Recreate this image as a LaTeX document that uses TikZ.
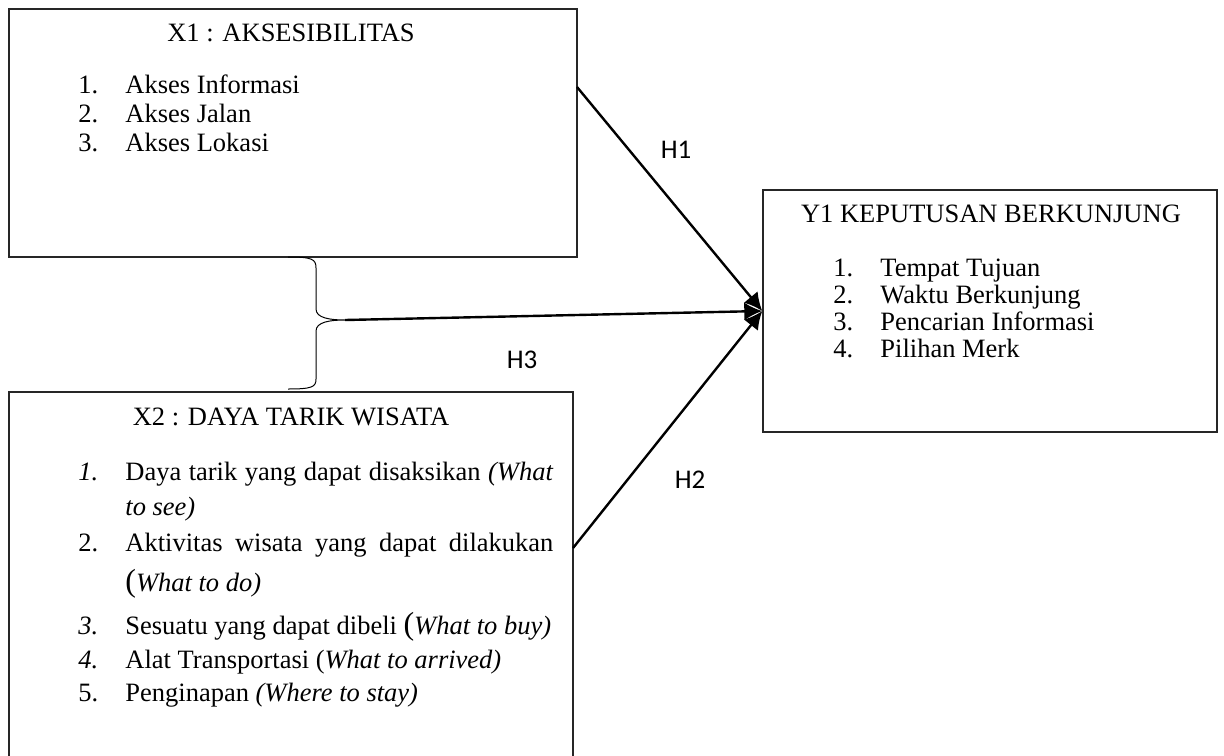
\documentclass[tikz,border=0pt]{standalone}
\usepackage{fontspec}
\setmainfont{Liberation Serif}
\newfontfamily\sansf{Carlito}
\usetikzlibrary{arrows.meta}
\begin{document}
\begin{tikzpicture}[x=0.5pt,y=-0.5pt,
  box/.style={draw=black!85, line width=0.7pt, inner sep=0pt, fill=none},
  txt/.style={inner sep=0pt, anchor=west, font=\fontsize{13.25pt}{15pt}\selectfont, text height=0.7em, text depth=0.2em},
  head/.style={txt, anchor=center},
  hlab/.style={inner sep=0pt, font=\sansf\fontsize{13.5pt}{15pt}\selectfont},
  conn/.style={line width=1.2pt, -{Latex[length=9pt,width=9pt]}},
  brace/.style={line width=0.5pt}]
\clip (0,0) rectangle (1224,755);
% boxes
\node[box, minimum width=284pt, minimum height=124pt] (x1) at (293,133) {};
\node[box, minimum width=282pt, minimum height=194pt] (x2) at (291,586) {};
\node[box, minimum width=227pt, minimum height=121pt] (y1) at (990,311) {};
% X1 text
\node[head] (x1h) at (291,36) {X1 : AKSESIBILITAS};
\node[txt] (x1n1) at (78,88) {1.};
\node[txt] (x1t1) at (125,88) {Akses Informasi};
\node[txt] (x1n2) at (78,117) {2.};
\node[txt] (x1t2) at (125,117) {Akses Jalan};
\node[txt] (x1n3) at (78,146) {3.};
\node[txt] (x1t3) at (125,146) {Akses Lokasi};
% Y1 text
\node[head] (y1h) at (991,217) {Y1 KEPUTUSAN BERKUNJUNG};
\node[txt] (y1n1) at (833,271) {1.};
\node[txt] (y1t1) at (880,271) {Tempat Tujuan};
\node[txt] (y1n2) at (833,298) {2.};
\node[txt] (y1t2) at (880,298) {Waktu Berkunjung};
\node[txt] (y1n3) at (833,325) {3.};
\node[txt] (y1t3) at (880,325) {Pencarian Informasi};
\node[txt] (y1n4) at (833,352) {4.};
\node[txt] (y1t4) at (880,352) {Pilihan Merk};
% X2 text
\node[head] (x2h) at (291,420) {X2 : DAYA TARIK WISATA};
\node[txt] (x2n1) at (78,475) {\textit{1.}};
\node[txt] (x2t1) at (125,475) {\makebox[214pt][s]{Daya tarik yang dapat disaksikan \textit{(What}}};
\node[txt] (x2t1b) at (125,510) {\textit{to see)}};
\node[txt] (x2n2) at (78,546) {2.};
\node[txt] (x2t2) at (125,546) {\makebox[214pt][s]{Aktivitas wisata yang dapat dilakukan}};
\node[txt] (x2t2b) at (125,586) {{\fontsize{16pt}{16pt}\selectfont(}\textit{What to do)}};
\node[txt] (x2n3) at (78,629) {\textit{3.}};
\node[txt] (x2t3) at (125,629) {Sesuatu yang dapat dibeli {\fontsize{16pt}{16pt}\selectfont(}\textit{What to buy)}};
\node[txt] (x2n4) at (78,663) {\textit{4.}};
\node[txt] (x2t4) at (125,663) {Alat Transportasi (\textit{What to arrived)}};
\node[txt] (x2n5) at (78,696) {5.};
\node[txt] (x2t5) at (125,696) {Penginapan \textit{(Where to stay)}};
% brace
\coordinate (btop) at (288,257);
\coordinate (btip) at (345,320);
\coordinate (bbot) at (288,389);
\draw[brace] (btop) .. controls (312,257) and (316,259) .. (316,268) -- (316,309)
  .. controls (316,318) and (330,320) .. (btip)
  .. controls (330,320) and (316,322) .. (316,331) -- (316,379)
  .. controls (316,387) and (312,389) .. (bbot);
% connectors
\coordinate (h1s) at (577,87);
\coordinate (h2s) at (573,548);
\draw[conn] (h1s) -- (y1.west);
\draw[conn] (btip) -- (y1.west);
\draw[conn] (h2s) -- (y1.west);
% labels
\node[hlab] (lh1) at (676,150) {H1};
\node[hlab] (lh3) at (522,360) {H3};
\node[hlab] (lh2) at (690,480) {H2};
\end{tikzpicture}
\end{document}
